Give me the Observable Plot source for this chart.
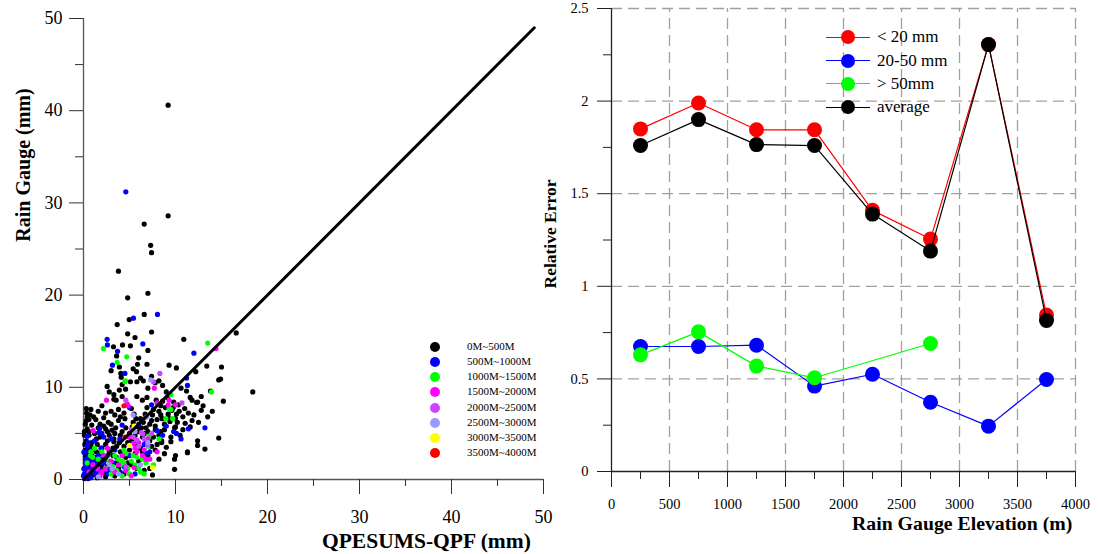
<!DOCTYPE html>
<html><head><meta charset="utf-8">
<script src="https://cdn.jsdelivr.net/npm/d3@7"></script>
<script src="https://cdn.jsdelivr.net/npm/@observablehq/plot@0.6"></script>
<style>
body{margin:0;background:#fff;}
#root{position:relative;width:1099px;height:554px;overflow:hidden;font-family:"Liberation Serif","Times New Roman",serif;color:#000;background:#fff;}
#root svg, #root svg text{font-family:"Liberation Serif","Times New Roman",serif !important;}
.lbl{position:absolute;white-space:nowrap;font-weight:bold;line-height:1;}
.leg{position:absolute;white-space:nowrap;line-height:1;}
</style></head><body><div id="root"></div>
<script>
// ---------- Left panel: QPESUMS-QPF vs Rain Gauge ----------
const elevGroups = ["0M~500M","500M~1000M","1000M~1500M","1500M~2000M","2000M~2500M","2500M~3000M","3000M~3500M","3500M~4000M"];
const elevColors = ["#000000","#0000ff","#00ff00","#ff00ff","#cc44ff","#9999ff","#ffff00","#ff0000"];

const pts0_500 = [
[9.2,40.6],[9.2,28.6],[6.6,27.7],[7.3,25.4],[7.4,24.6],[3.8,22.6],[7.0,20.2],[4.8,19.7],[6.6,17.9],[4.97,17.35],
[3.66,16.8],[7.4,16.0],[10.9,15.2],[16.6,15.9],[4.24,14.6],[5.1,14.5],[3.26,14.4],[7.0,14.0],[3.6,13.4],[5.87,12.5],
[6.9,12.5],[5.76,11.7],[3.0,11.8],[4.06,11.5],[9.3,12.4],[10.1,12.1],[12.2,11.7],[13.4,12.3],[15.0,12.2],[14.7,10.8],
[14.9,10.9],[18.4,9.5],[4.1,11.1],[5.8,10.6],[5.1,10.6],[6.5,10.7],[7.8,10.5],[8.2,10.7],[7.0,9.9],[15.2,8.5],
[3.3,9.2],[3.3,8.7],[3.9,9.7],[4.2,9.0],[4.2,10.3],[5.8,9.0],[6.4,8.6],[6.9,8.9],[9.1,8.9],[10.3,8.1],
[11.8,8.6],[12.4,8.4],[11.0,7.7],[5.7,6.6],[6.2,6.6],[7.5,7.0],[8.0,6.5],[8.55,6.6],[9.2,7.1],[10.1,7.1],
[11.05,6.1],[9.9,5.6],[14.7,4.5],[13.2,3.3],[11.3,2.9],[10.0,2.6],[9.9,1.1],[7.5,0.5],[8.4,5.2],[8.5,4.0],
[3.3,4.4],[2.4,5.5],[3.1,5.35],[1.34,6.5],[0.33,7.2],[0.58,6.5],[2.2,6.7],[2.7,6.2],[3.8,6.4],[4.5,6.6],
[3.5,5.6],[5.3,5.7],[5.9,5.75],[6.3,5.6],[2.57,10.1],[4.57,9.8],[3.55,8.6],[5.2,7.7],[5.5,7.1],[6.7,7.1],
[6.9,7.8],[7.9,8.6],[8.6,8.5],[11.6,8.9],[12.3,8.35],[9.75,7.8],[10.0,6.6],[10.0,5.7],[8.5,4.2],[3.3,4.1],
[9.9,2.2],[11.3,3.0],[12.4,4.2],[11.6,5.7],[9.5,4.1],[12.4,3.7],
[7.2,6.0],[7.8,5.8],[8.8,6.0],[9.4,6.3],[9.6,7.5],[10.4,7.4],[10.8,6.8],[11.4,7.2],[12.0,7.0],[12.8,7.5],
[13.0,8.0],[8.2,7.4],[8.9,7.8],[9.8,8.4],[6.5,6.2],[7.0,5.2],[7.6,4.6],[6.8,4.0],[8.0,3.8],[9.0,3.5],
[9.5,4.6],[10.5,4.8],[10.8,5.4],[11.8,6.4],[12.5,6.2],[13.5,6.8],[14.0,7.4],[13.8,9.6],[12.8,9.0],[11.2,9.6],
[10.6,9.9],[9.0,9.5],[8.6,10.2],[7.4,11.2],[6.2,11.0],[5.4,12.0],[6.0,13.2],[4.8,15.8],[5.6,15.4],[3.9,12.2],
[2.8,9.5],[2.0,8.0],[1.6,7.4],[1.1,6.8],[0.9,5.9],[0.4,5.5],[0.2,6.0],[0.6,4.8],[0.3,4.2],[0.8,3.6],
[0.2,3.2],[0.5,2.8],[1.2,2.4],[0.3,2.0],[0.7,1.6],[0.1,1.2],[0.4,0.8],[1.0,0.5],[0.2,0.3],[1.5,3.8],
[2.0,3.4],[1.8,2.8],[2.4,2.2],[2.8,3.0],[3.2,2.6],[2.6,1.4],[3.6,1.8],[4.0,3.0],[4.6,2.4],[5.0,3.2],
[5.6,2.8],[6.2,3.4],[6.0,2.0],[5.2,1.6],[4.4,0.6],[3.4,0.4],[2.2,0.8],[6.6,1.0],[7.0,2.6],[7.8,3.2],
[1.8,4.6],[2.6,4.2],[4.2,5.2],[4.8,4.0],[5.6,4.8],[6.6,5.0],[2.2,5.8],[1.2,5.0],[3.0,7.4],[3.8,7.6],
[4.4,7.2],[0.8,7.6],[0.4,6.8],[1.8,6.0],[0.3,7.7],[0.6,5.2],[1.4,4.4],[0.9,4.0],[1.6,1.8],[2.0,1.4],
[3.0,1.6],[3.8,1.2],[4.8,1.8],[5.8,1.2],[7.2,1.2],[8.2,2.2],[8.8,2.8],[6.4,4.6],[7.2,4.2],[3.6,3.6],
[0.1,4.8],[0.5,3.4],[0.9,2.6],[1.3,1.0],[0.2,2.5],[0.6,0.4],[1.5,0.2],[2.4,0.3],[2.8,0.9],[3.2,3.4],
[3.9,4.0],[4.4,3.6],[5.2,4.2],[5.8,3.6],[6.4,3.0],[7.4,3.6],[8.2,4.8],[7.8,5.4],[6.8,5.6],[6.0,5.2],
[5.0,5.0],[4.0,4.8],[2.8,4.8],[2.4,3.8],[1.4,3.0],[1.0,1.2],[0.5,1.4],[3.4,5.0],[4.6,5.6],[7.4,6.4],
[8.4,7.0],[9.2,6.8],[10.2,6.2],[8.8,5.4],[0.1,5.2],[0.3,6.4],[0.7,7.0],[0.15,3.8],[1.6,5.6],[2.6,5.2],
[3.0,6.0],[0.5,0.1],[0.9,0.9],[6.8,6.8],[7.6,7.6],[8.4,8.0],[5.4,6.2],[4.0,6.8],[3.4,7.0],[2.4,7.2]
];
const pts500_1000 = [
[4.6,31.2],[5.43,17.5],[8.04,17.9],[2.57,15.2],[2.6,14.6],[6.45,14.7],[12.0,13.7],[3.7,13.9],[3.15,12.4],[4.5,11.5],
[11.2,11.0],[11.3,10.2],[5.0,7.8],[10.1,5.0],[13.2,5.6],[8.0,5.3],[0.4,4.7],[1.74,5.5],[2.0,5.0],[7.4,8.1],
[3.95,4.4],[1.67,5.1],[0.04,2.96],[0.04,1.16],[0.3,0.5],[0.6,1.0],[0.2,1.8],[0.9,2.0],[0.5,2.4],[1.2,1.4],
[1.4,0.6],[0.8,0.2],[1.8,1.0],[2.2,1.8],[0.4,3.6],[1.0,3.2],[1.6,2.6],[2.6,2.6],[3.4,3.2],[2.9,1.0],
[4.0,0.8],[3.6,2.4],[5.6,0.6],[6.6,3.8],[7.2,3.0],[9.0,5.8],[8.6,4.8],[6.0,6.0],[4.2,5.9],[5.8,4.2],
[2.2,4.6],[0.2,0.1],[1.2,4.2],[10.6,4.4],[11.4,5.5],[9.8,5.2],
[0.1,0.6],[0.3,1.4],[0.6,2.0],[0.2,2.2],[0.7,2.8],[1.1,0.8],[1.5,1.6],[0.9,1.4],[0.2,3.0],[0.5,4.0],
[1.4,2.0],[2.0,2.2],[2.6,0.6],[3.2,1.8],[4.4,1.4],[5.0,2.6],[6.8,2.8],[0.0,0.4],[1.9,3.4],[3.0,4.4]
];
const pts1000_1500 = [
[2.17,14.2],[13.5,14.8],[4.7,13.3],[3.66,12.7],[4.57,10.7],[13.9,9.5],[9.5,9.2],[9.5,7.6],[8.95,6.6],[9.7,6.6],
[7.1,4.7],[4.5,10.6],[9.3,7.7],[0.76,2.6],[4.4,1.8],[3.2,1.4],[3.6,1.0],[4.0,1.6],[4.8,1.2],[5.2,2.0],
[5.6,1.6],[6.0,1.2],[6.4,2.2],[4.6,2.8],[3.8,2.2],[5.0,0.6],[6.8,1.8],[2.8,2.0],[2.4,1.2],[1.0,2.4],
[0.8,3.0],[7.6,1.6],[5.4,2.6],[6.2,0.8],[4.2,0.4],[3.0,0.6],[1.2,3.4],[2.0,3.0],[7.0,3.6],[8.2,4.4],
[3.4,2.6],[4.2,2.0],[5.8,2.4],[6.6,0.6],[1.6,2.2],[4.4,3.2],[0.4,1.8]
];
const pts1500_2000 = [
[14.4,14.2],[7.7,9.9],[2.5,8.6],[4.85,8.0],[8.0,8.3],[9.3,8.6],[10.0,8.1],[4.75,8.2],[9.2,8.1],[1.05,5.3],
[4.9,4.6],[5.4,3.9],[1.5,1.16],[2.4,1.16],[5.5,1.3],[3.0,2.0],[4.2,2.6],[5.8,3.0],[6.4,2.6],[7.2,2.2],
[6.6,3.2],[2.0,0.8],[3.4,0.8],[4.6,1.0],[6.0,4.0],[7.0,4.4],[1.0,1.6],[2.6,3.4],[8.0,3.0],[5.2,0.4],
[1.8,0.4],[3.8,1.6],[5.6,3.4],[6.8,2.2],[2.2,2.6],[0.6,0.8]
];
const pts2000_2500 = [
[8.3,11.5],[4.6,8.6],[10.7,8.3],[6.3,5.1],[5.8,4.3],[6.45,4.95],[6.0,3.6],[7.0,3.8],[5.4,4.6],[6.6,4.4],
[7.4,5.0],[4.6,1.4],[7.6,10.6],[5.2,5.4]
];
const pts2500_3000 = [
[7.3,10.8],[5.4,7.0],[6.9,6.8],[3.1,1.16],[5.6,5.2],[3.8,0.6],[1.6,0.3],[6.2,1.6],[7.0,4.0],[2.8,1.6]
];
const pts3000_3500 = [[5.5,5.8],[7.5,1.3],[5.0,3.7]];
const pts3500_4000 = [[4.4,8.0],[4.5,4.6]];

const diagLine = [0, 49];
const leftMajorTicks = [0,10,20,30,40,50];
const leftMinorTicks = [5,15,25,35,45];

// ---------- Right panel: Relative error vs elevation ----------
const elevation = [250,750,1250,1750,2250,2750,3250,3750];
const elevationGt50 = [250,750,1250,1750,2750];
const errLt20  = [1.85,1.99,1.845,1.845,1.41,1.255,2.305,0.845];
const err20_50 = [0.675,0.675,0.682,0.461,0.525,0.374,0.245,0.497];
const errGt50  = [0.63,0.754,0.569,0.506,0.691];
const errAvg   = [1.76,1.90,1.765,1.76,1.39,1.19,2.305,0.815];
const seriesNames  = ["< 20 mm","20-50 mm","> 50mm","average"];
const seriesColors = ["#ff0000","#0000ff","#00ff00","#000000"];
const rxMajor = [0,500,1000,1500,2000,2500,3000,3500,4000];
const rxMinor = [250,750,1250,1750,2250,2750,3250,3750];
const ryMajor = [0,0.5,1,1.5,2,2.5];
const ryMinor = [0.25,0.75,1.25,1.75,2.25];

const root = document.getElementById("root");
const FONT = '"Liberation Serif","Times New Roman",serif';

// build scatter table
const groups = [pts0_500,pts500_1000,pts1000_1500,pts1500_2000,pts2000_2500,pts2500_3000,pts3000_3500,pts3500_4000];
const scatter = groups.flatMap((pts,i)=>pts.map(([x,y])=>({x,y,g:elevGroups[i]})));

const left = Plot.plot({
  width:560, height:554,
  marginLeft:83, marginRight:17, marginTop:18, marginBottom:75,
  x:{domain:[0,50]}, y:{domain:[0,50]},
  color:{domain:elevGroups, range:elevColors},
  style:{fontFamily:FONT, color:"#000", background:"transparent", overflow:"visible"},
  marks:[
    Plot.ruleX([0],{y1:0,y2:50,stroke:"#555",strokeWidth:1.3}),
    Plot.ruleY([0],{x1:0,x2:50,stroke:"#555",strokeWidth:1.3}),
    Plot.axisY(leftMajorTicks,{tickSize:14,tickPadding:7,fontSize:18,label:null,stroke:"#333",tickFormat:d=>String(d)}),
    Plot.axisY(leftMinorTicks,{tickSize:8,label:null,stroke:"#333",tickFormat:()=>""}),
    Plot.axisX(leftMajorTicks,{tickSize:15,tickPadding:16,fontSize:18,label:null,stroke:"#333",tickFormat:d=>String(d)}),
    Plot.axisX(leftMinorTicks,{tickSize:7,label:null,stroke:"#333",tickFormat:()=>""}),
    Plot.dot(scatter,{x:"x",y:"y",fill:"g",r:2.6}),
    Plot.line(diagLine,{x:d=>d,y:d=>d,stroke:"#000",strokeWidth:3})
  ]
});
left.style.position="absolute"; left.style.left="0px"; left.style.top="0px";
root.appendChild(left);

// right table
const seriesVals = [errLt20, err20_50, errGt50, errAvg];
const seriesX = [elevation, elevation, elevationGt50, elevation];
const rightMarks = [
  Plot.ruleX(rxMajor.slice(1),{y1:0,y2:2.5,stroke:"#a0a0a0",strokeWidth:1.3,strokeDasharray:"11,6"}),
  Plot.ruleY(ryMajor.slice(1),{x1:0,x2:4000,stroke:"#a0a0a0",strokeWidth:1.3,strokeDasharray:"11,6"}),
  Plot.ruleX([0],{y1:0,y2:2.5,stroke:"#222",strokeWidth:1.3}),
  Plot.ruleY([0],{x1:0,x2:4000,stroke:"#222",strokeWidth:1.3}),
  Plot.axisY(ryMajor,{tickSize:14,tickPadding:9,fontSize:14.5,label:null,stroke:"#222",tickFormat:d=>String(d)}),
  Plot.axisY(ryMinor,{tickSize:8,label:null,stroke:"#222",tickFormat:()=>""}),
  Plot.axisX(rxMajor,{tickSize:16,tickPadding:11,fontSize:14.5,label:null,stroke:"#222",tickFormat:d=>String(d)}),
  Plot.axisX(rxMinor,{tickSize:8,label:null,stroke:"#222",tickFormat:()=>""})
];
for (let i=0;i<4;i++) {
  const data = seriesVals[i].map((v,j)=>({x:seriesX[i][j],y:v}));
  rightMarks.push(Plot.line(data,{x:"x",y:"y",stroke:seriesColors[i],strokeWidth:1.2}));
  rightMarks.push(Plot.dot(data,{x:"x",y:"y",fill:seriesColors[i],r:7.5}));
}
const right = Plot.plot({
  width:559, height:554,
  marginLeft:71, marginRight:24, marginTop:8, marginBottom:83,
  x:{domain:[0,4000]}, y:{domain:[0,2.5]},
  style:{fontFamily:FONT, color:"#000", background:"transparent", overflow:"visible"},
  marks:rightMarks
});
right.style.position="absolute"; right.style.left="540px"; right.style.top="0px";
root.appendChild(right);

// axis titles
function addText(txt, css, cls){
  const d=document.createElement("div"); d.className=cls||"lbl"; d.textContent=txt;
  Object.assign(d.style, css); root.appendChild(d); return d;
}
addText("QPESUMS-QPF (mm)",{left:"322px",top:"531px",fontSize:"21.5px"});
addText("Rain Gauge Elevation (m)",{left:"852px",top:"514px",fontSize:"19.8px"});
addText("Rain Gauge (mm)",{left:"23px",top:"165px",fontSize:"20px",transform:"translate(-50%,-50%) rotate(-90deg)"});
addText("Relative Error",{left:"551px",top:"234px",fontSize:"17.5px",transform:"translate(-50%,-50%) rotate(-90deg)"});

// left legend
elevGroups.forEach((g,i)=>{
  const cy = 346.7 + 15.2*i;
  const c=document.createElement("div");
  Object.assign(c.style,{position:"absolute",left:(435-5)+"px",top:(cy-5)+"px",width:"10px",height:"10px",borderRadius:"50%",background:elevColors[i]});
  root.appendChild(c);
  addText(g,{left:"467px",top:(cy-6)+"px",fontSize:"11px"},"leg");
});

// right legend
seriesNames.forEach((s,i)=>{
  const cy = 37.3 + 23.3*i;
  const ln=document.createElement("div");
  Object.assign(ln.style,{position:"absolute",left:"826px",top:(cy-0.6)+"px",width:"44px",height:"1.2px",background:seriesColors[i]});
  root.appendChild(ln);
  const c=document.createElement("div");
  Object.assign(c.style,{position:"absolute",left:(848-7)+"px",top:(cy-7)+"px",width:"14px",height:"14px",borderRadius:"50%",background:seriesColors[i]});
  root.appendChild(c);
  addText(s,{left:"877px",top:(cy-9)+"px",fontSize:"17px"},"leg");
});
</script></body></html>
